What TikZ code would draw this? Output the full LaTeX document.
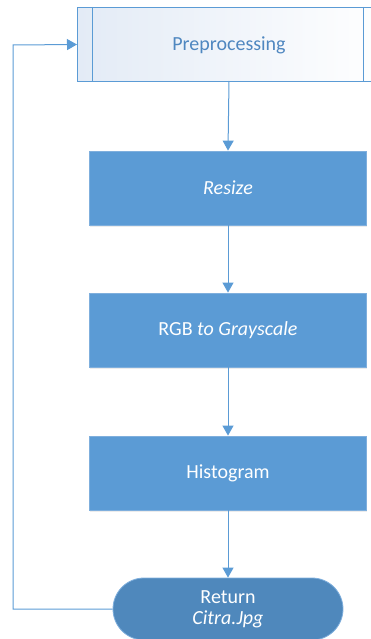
\documentclass[tikz,border=0pt]{standalone}
\usepackage{fontspec}
\setmainfont{Carlito}
\usetikzlibrary{arrows.meta,shadows}
\definecolor{flowblue}{HTML}{5B9BD5}
\definecolor{flowedge}{HTML}{7FAFDD}
\definecolor{termblue}{HTML}{4F88BC}
\definecolor{predtext}{HTML}{4F87C0}
\definecolor{predfill}{HTML}{E3EBF6}
\tikzset{
  every picture/.style={x=1pt,y=-1pt},
  labelfont/.style={font=\fontsize{20}{23}\selectfont},
  procbox/.style={draw=flowedge,line width=0.8pt,fill=flowblue,minimum width=277pt,minimum height=74pt,
    text=white,labelfont,inner sep=0pt,
    drop shadow={shadow xshift=0pt,shadow yshift=-1.5pt,opacity=0.15}},
  termbox/.style={draw=flowedge,line width=0.8pt,fill=termblue,rounded corners=31pt,minimum width=230pt,minimum height=62pt,
    text=white,labelfont,inner sep=0pt,align=center},
  link/.style={draw=flowblue,line width=1pt,-{Triangle[length=10pt,width=11pt]}},
}
\begin{document}
\begin{tikzpicture}
\useasboundingbox (0,0) rectangle (371,639);
\clip (0,0) rectangle (371,639);
% predefined process
\node[draw=flowblue,line width=1pt,shading angle=135,left color=predfill,right color=white,minimum width=310pt,minimum height=74pt,inner sep=0pt,anchor=north west] (pre) at (77,7) {};
\draw[flowblue,line width=1pt] (92,7) -- (92,81) (363,7) -- (363,81);
\node[text=predtext,labelfont] (pretxt) at (229,45) {Preprocessing};
\coordinate (preb) at (229,81);
% process steps
\node[procbox] (resize) at (228,188) {\textit{Resize}};
\node[procbox] (rgb) at (228,330) {RGB \textit{to Grayscale}};
\node[procbox] (hist) at (228,473) {Histogram};
\node[termbox] (ret) at (228,609) {Return\\[-2pt]\textit{Citra.Jpg}};
% connectors
\draw[link] (preb) -- (resize.north);
\draw[link] (resize.south) -- (rgb.north);
\draw[link] (rgb.south) -- (hist.north);
\draw[link] (hist.south) -- (hist.south |- ret.north);
\coordinate (lb) at (13,609);
\coordinate (lt) at (13,45);
\draw[link] (ret.west) -- (lb) -- (lt) -- (pre.west);
\end{tikzpicture}
\end{document}
